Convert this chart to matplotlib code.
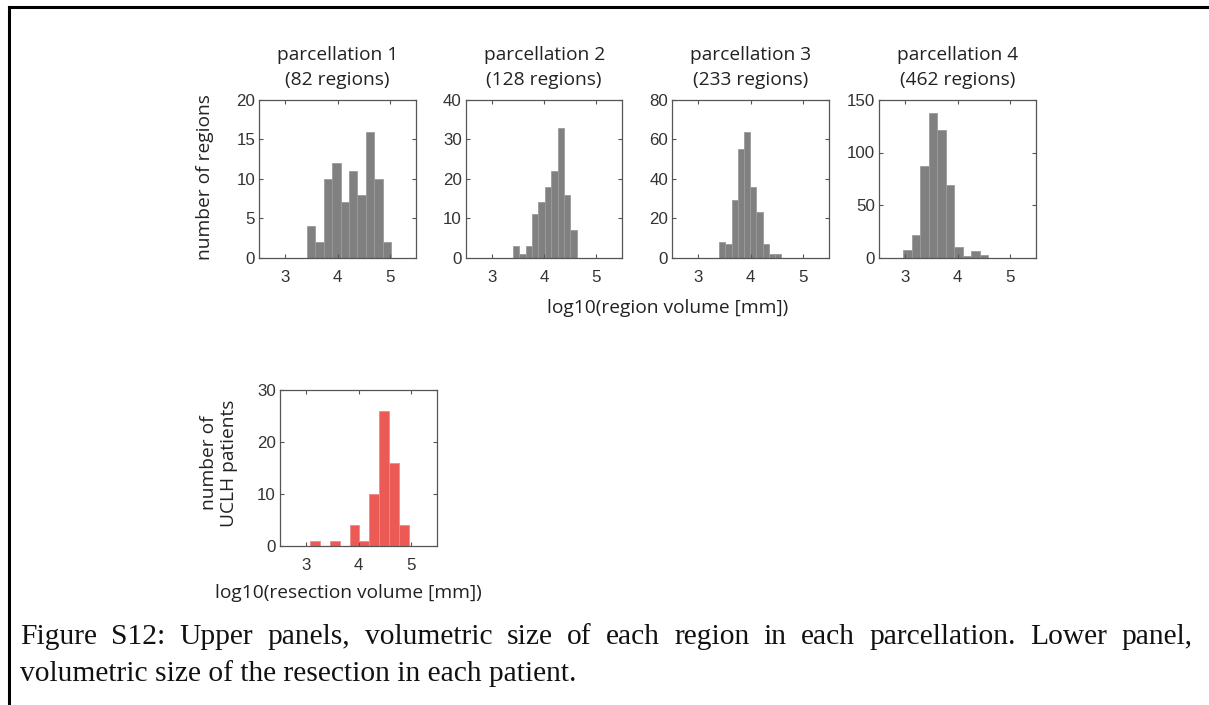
import numpy as np
import matplotlib
matplotlib.use("Agg")
import matplotlib.pyplot as plt
from matplotlib.lines import Line2D

# ---------------- data ----------------
titles = ["parcellation 1\n(82 regions)", "parcellation 2\n(128 regions)",
          "parcellation 3\n(233 regions)", "parcellation 4\n(462 regions)"]
# histogram bins: first edge and bin width, counts per bin
p1_start, p1_width = 3.41, 0.162
p1_counts = [4, 2, 10, 12, 7, 11, 8, 16, 10, 2]
p2_start, p2_width = 3.40, 0.122
p2_counts = [3, 1, 3, 11, 14, 18, 22, 33, 16, 7]
p3_start, p3_width = 3.40, 0.119
p3_counts = [8, 7, 29, 55, 64, 36, 23, 7, 2, 2]
p4_start, p4_width = 2.955, 0.163
p4_counts = [7, 21, 87, 138, 121, 69, 10, 1, 6, 2]
res_start, res_width = 3.077, 0.1878
res_counts = [1, 0, 1, 0, 4, 1, 10, 26, 16, 4]

y_maxes = [20, 40, 80, 150]
y_steps = [5, 10, 20, 50]
res_ymax, res_ystep = 30, 10
x_ticks = [3, 4, 5]
x_lim = (2.5, 5.5)

caption1 = "Figure S12: Upper panels, volumetric size of each region in each parcellation. Lower panel,"
caption2 = "volumetric size of the resection in each patient."

GRAY = "#808080"
GRAY_EDGE = "#9a9a9a"
RED = "#ec5a55"
RED_EDGE = "#f08a86"
FRAME = "#555555"
TXT = "#222222"

W, H = 1209, 705
fig = plt.figure(figsize=(W / 100, H / 100), dpi=100)

TICKFONT = "Liberation Sans"
LABELFONT = "Open Sans"
LSIZE = 13.8
TSIZE = 12.2


def px_axes(left, top, width, height):
    return fig.add_axes([left / W, 1 - (top + height) / H, width / W, height / H])


def style(ax, ymax, ystep):
    ax.set_xlim(*x_lim)
    ax.set_ylim(0, ymax)
    ax.set_xticks(x_ticks)
    ax.set_yticks(np.arange(0, ymax + 0.1, ystep))
    ax.tick_params(direction="in", length=3, width=0.8, color=FRAME,
                   top=True, right=True, labelsize=TSIZE, labelcolor="#333333")
    ax.tick_params(axis="x", pad=9)
    ax.tick_params(axis="y", pad=3)
    for lab in ax.get_xticklabels() + ax.get_yticklabels():
        lab.set_family(TICKFONT)
    for s in ax.spines.values():
        s.set_color(FRAME)
        s.set_linewidth(0.9)


def hist(ax, start, width, counts, fc, ec):
    counts = np.asarray(counts)
    lefts = start + width * np.arange(len(counts))
    ax.bar(lefts, counts, width=width, align="edge", color=fc,
           edgecolor=ec, linewidth=0.6)


panel_lefts = [259.3, 466.0, 672.3, 879.3]
starts = [p1_start, p2_start, p3_start, p4_start]
widths = [p1_width, p2_width, p3_width, p4_width]
counts_all = [p1_counts, p2_counts, p3_counts, p4_counts]

axes = []
for i in range(4):
    ax = px_axes(panel_lefts[i], 100, 156.5, 157.5)
    hist(ax, starts[i], widths[i], counts_all[i], GRAY, GRAY_EDGE)
    style(ax, y_maxes[i], y_steps[i])
    ax.set_title(titles[i], family=LABELFONT, fontsize=LSIZE, color=TXT,
                 pad=11, linespacing=1.45)
    axes.append(ax)

fig.text(205 / W, 1 - 177 / H, "number of regions", family=LABELFONT, fontsize=LSIZE,
         color=TXT, rotation=90, ha="center", va="center")
fig.text(668 / W, 1 - 308 / H, "log10(region volume [mm])", family=LABELFONT,
         fontsize=LSIZE, color=TXT, ha="center", va="center")

axr = px_axes(280, 390, 157.3, 156)
hist(axr, res_start, res_width, res_counts, RED, RED_EDGE)
style(axr, res_ymax, res_ystep)
fig.text(219 / W, 1 - 463 / H, "number of\nUCLH patients", family=LABELFONT,
         fontsize=LSIZE, color=TXT, rotation=90, ha="center", va="center",
         linespacing=1.1, multialignment="center")
fig.text(348 / W, 1 - 593 / H, "log10(resection volume [mm])", family=LABELFONT,
         fontsize=LSIZE, color=TXT, ha="center", va="center")

# ---------------- caption (justified first line) ----------------
renderer = fig.canvas.get_renderer()
probe = fig.text(0, 0, caption2, family="Liberation Serif", fontsize=10)
cap_size = 10 * 557 / probe.get_window_extent(renderer).width
probe.remove()
x0, x1 = 20, 1192
words = caption1.split(" ")
tmp = [fig.text(0, 0, w, family="Liberation Serif", fontsize=cap_size) for w in words]
wid = [t.get_window_extent(renderer).width for t in tmp]
for t in tmp:
    t.remove()
gap = (x1 - x0 - sum(wid)) / (len(words) - 1)
x = x0
for w, ww in zip(words, wid):
    fig.text(x / W, 1 - 644 / H, w, family="Liberation Serif", fontsize=cap_size,
             color="#111111", va="baseline")
    x += ww + gap
fig.text(x0 / W, 1 - 681 / H, caption2, family="Liberation Serif", fontsize=cap_size,
         color="#111111", va="baseline")

# ---------------- page border ----------------
fig.add_artist(Line2D([8.5 / W, 8.5 / W], [0, 1 - 7 / H], color="black", lw=2.2,
                      transform=fig.transFigure, solid_capstyle="projecting"))
fig.add_artist(Line2D([8.5 / W, 1], [1 - 7 / H, 1 - 7 / H], color="black", lw=2.2,
                      transform=fig.transFigure, solid_capstyle="projecting"))

fig.savefig("out.png", dpi=100)
